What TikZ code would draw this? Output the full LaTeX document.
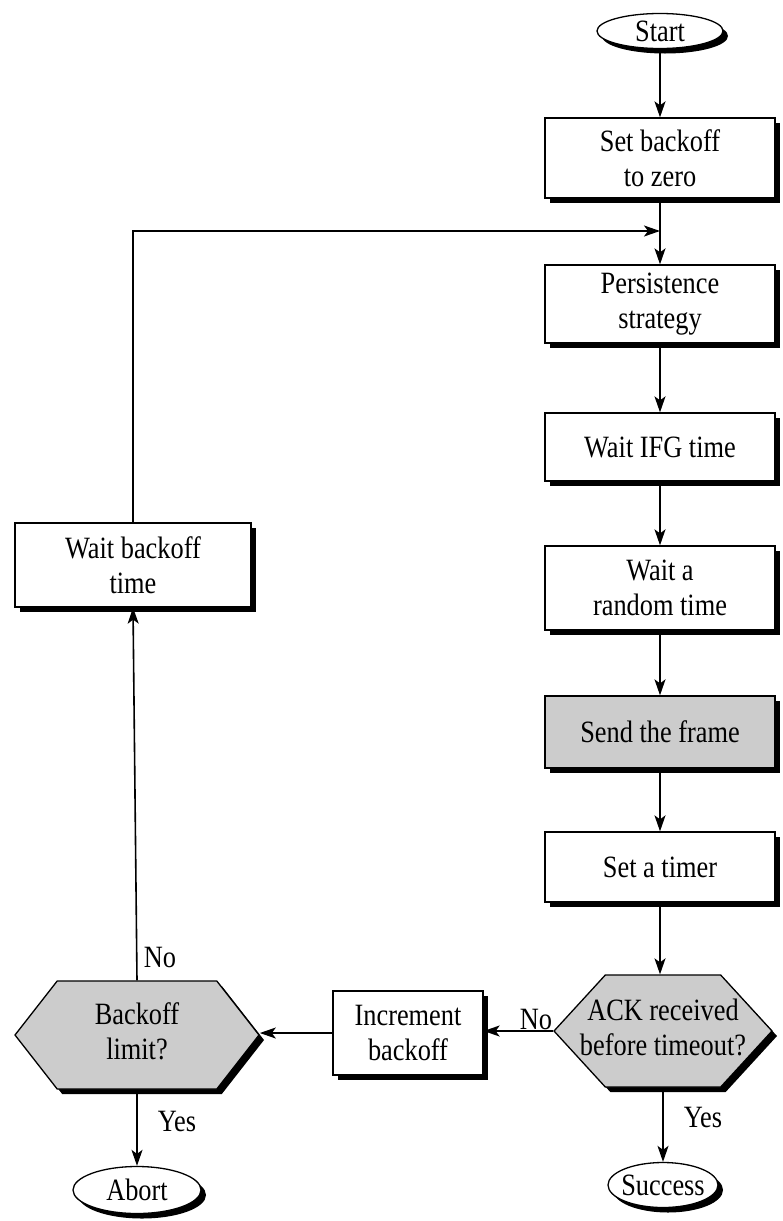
\documentclass[tikz,border=0pt]{standalone}
\usepackage{fontspec}
\setmainfont{Liberation Serif}[FakeStretch=0.85]
\usetikzlibrary{shapes.geometric,shapes.symbols,shadows,arrows.meta}
\begin{document}
\begin{tikzpicture}[x=1pt,y=-1pt,
  every node/.style={font=\fontsize{31}{35}\selectfont},
  shad/.style={drop shadow={shadow xshift=5pt,shadow yshift=-5pt,fill=black,opacity=1}},
  procbox/.style={rectangle,draw,fill=white,line width=1.3pt,shad,minimum width=230pt,inner sep=0pt,align=center},
  grayfill/.style={fill=black!20},
  term/.style={ellipse,draw,fill=white,line width=1.3pt,shad,inner sep=0pt},
  hexnode/.style={signal,signal to=east and west,draw,grayfill,line width=1.3pt,shad,inner sep=0pt},
  conn/.style={line width=1.6pt,-{Stealth[length=16pt,width=11pt,inset=4pt]}},
  lbl/.style={inner sep=0pt}
]
\useasboundingbox (0,0) rectangle (782,1221);

% right column
\node[term,minimum width=126pt,minimum height=35pt] (start) at (660,31) {\makebox[0pt]{Start}};
\node[procbox,minimum height=80pt] (setb) at (660,158) {Set backoff\\to zero};
\node[procbox,minimum height=78pt] (pers) at (660,304) {Persistence\\strategy};
\node[procbox,minimum height=68pt] (ifg) at (660,447) {Wait IFG time};
\node[procbox,minimum height=84pt] (rand) at (660,588) {Wait a\\random time};
\node[procbox,grayfill,minimum height=72pt] (send) at (660,732) {Send the frame};
\node[procbox,minimum height=70pt] (timer) at (660,867) {Set a timer};
\node[hexnode,signal pointer angle=95,minimum width=218pt,minimum height=112pt] (ack) at (663,1031)
  {\makebox[0pt]{\begin{tabular}{@{}c@{}}ACK received\\before timeout?\end{tabular}}};
\node[term,minimum width=110pt,minimum height=45pt] (succ) at (663,1185) {\makebox[0pt]{Success}};

% middle
\node[procbox,minimum width=150pt,minimum height=84pt] (incr) at (408,1033) {Increment\\backoff};

% left column
\node[procbox,minimum width=236pt,minimum height=84pt] (wbo) at (133,565) {Wait backoff\\time};
\node[hexnode,signal pointer angle=104,minimum width=244pt,minimum height=108pt] (back) at (137,1035)
  {\makebox[0pt]{\begin{tabular}{@{}c@{}}Backoff\\limit?\end{tabular}}};
\node[term,minimum width=128pt,minimum height=47pt] (abort) at (137,1190) {\makebox[0pt]{Abort}};

\coordinate (join) at (660,231);

% connectors
\draw[conn] (start) -- (setb);
\draw[conn] (setb) -- (pers);
\draw[conn] (pers) -- (ifg);
\draw[conn] (ifg) -- (rand);
\draw[conn] (rand) -- (send);
\draw[conn] (send) -- (timer);
\draw[conn] (timer.south) -- (timer.south |- ack.north);
\draw[conn] (ack.south) -- (ack.south |- succ.north);
\draw[conn] (ack.west) -- (incr.east |- ack.west);
\draw[conn] (incr.west) -- (back.east |- incr.west);
\draw[conn] (back.south) -- (abort.north);
\draw[conn] (back.north) -- (wbo.south);
\draw[conn] (wbo.north) |- (join);

% labels
\node[lbl] (lno1) at (536,1019) {No};
\node[lbl] (lyes1) at (703,1117) {Yes};
\node[lbl] (lno2) at (160,957) {No};
\node[lbl] (lyes2) at (177,1121) {Yes};
\end{tikzpicture}
\end{document}
